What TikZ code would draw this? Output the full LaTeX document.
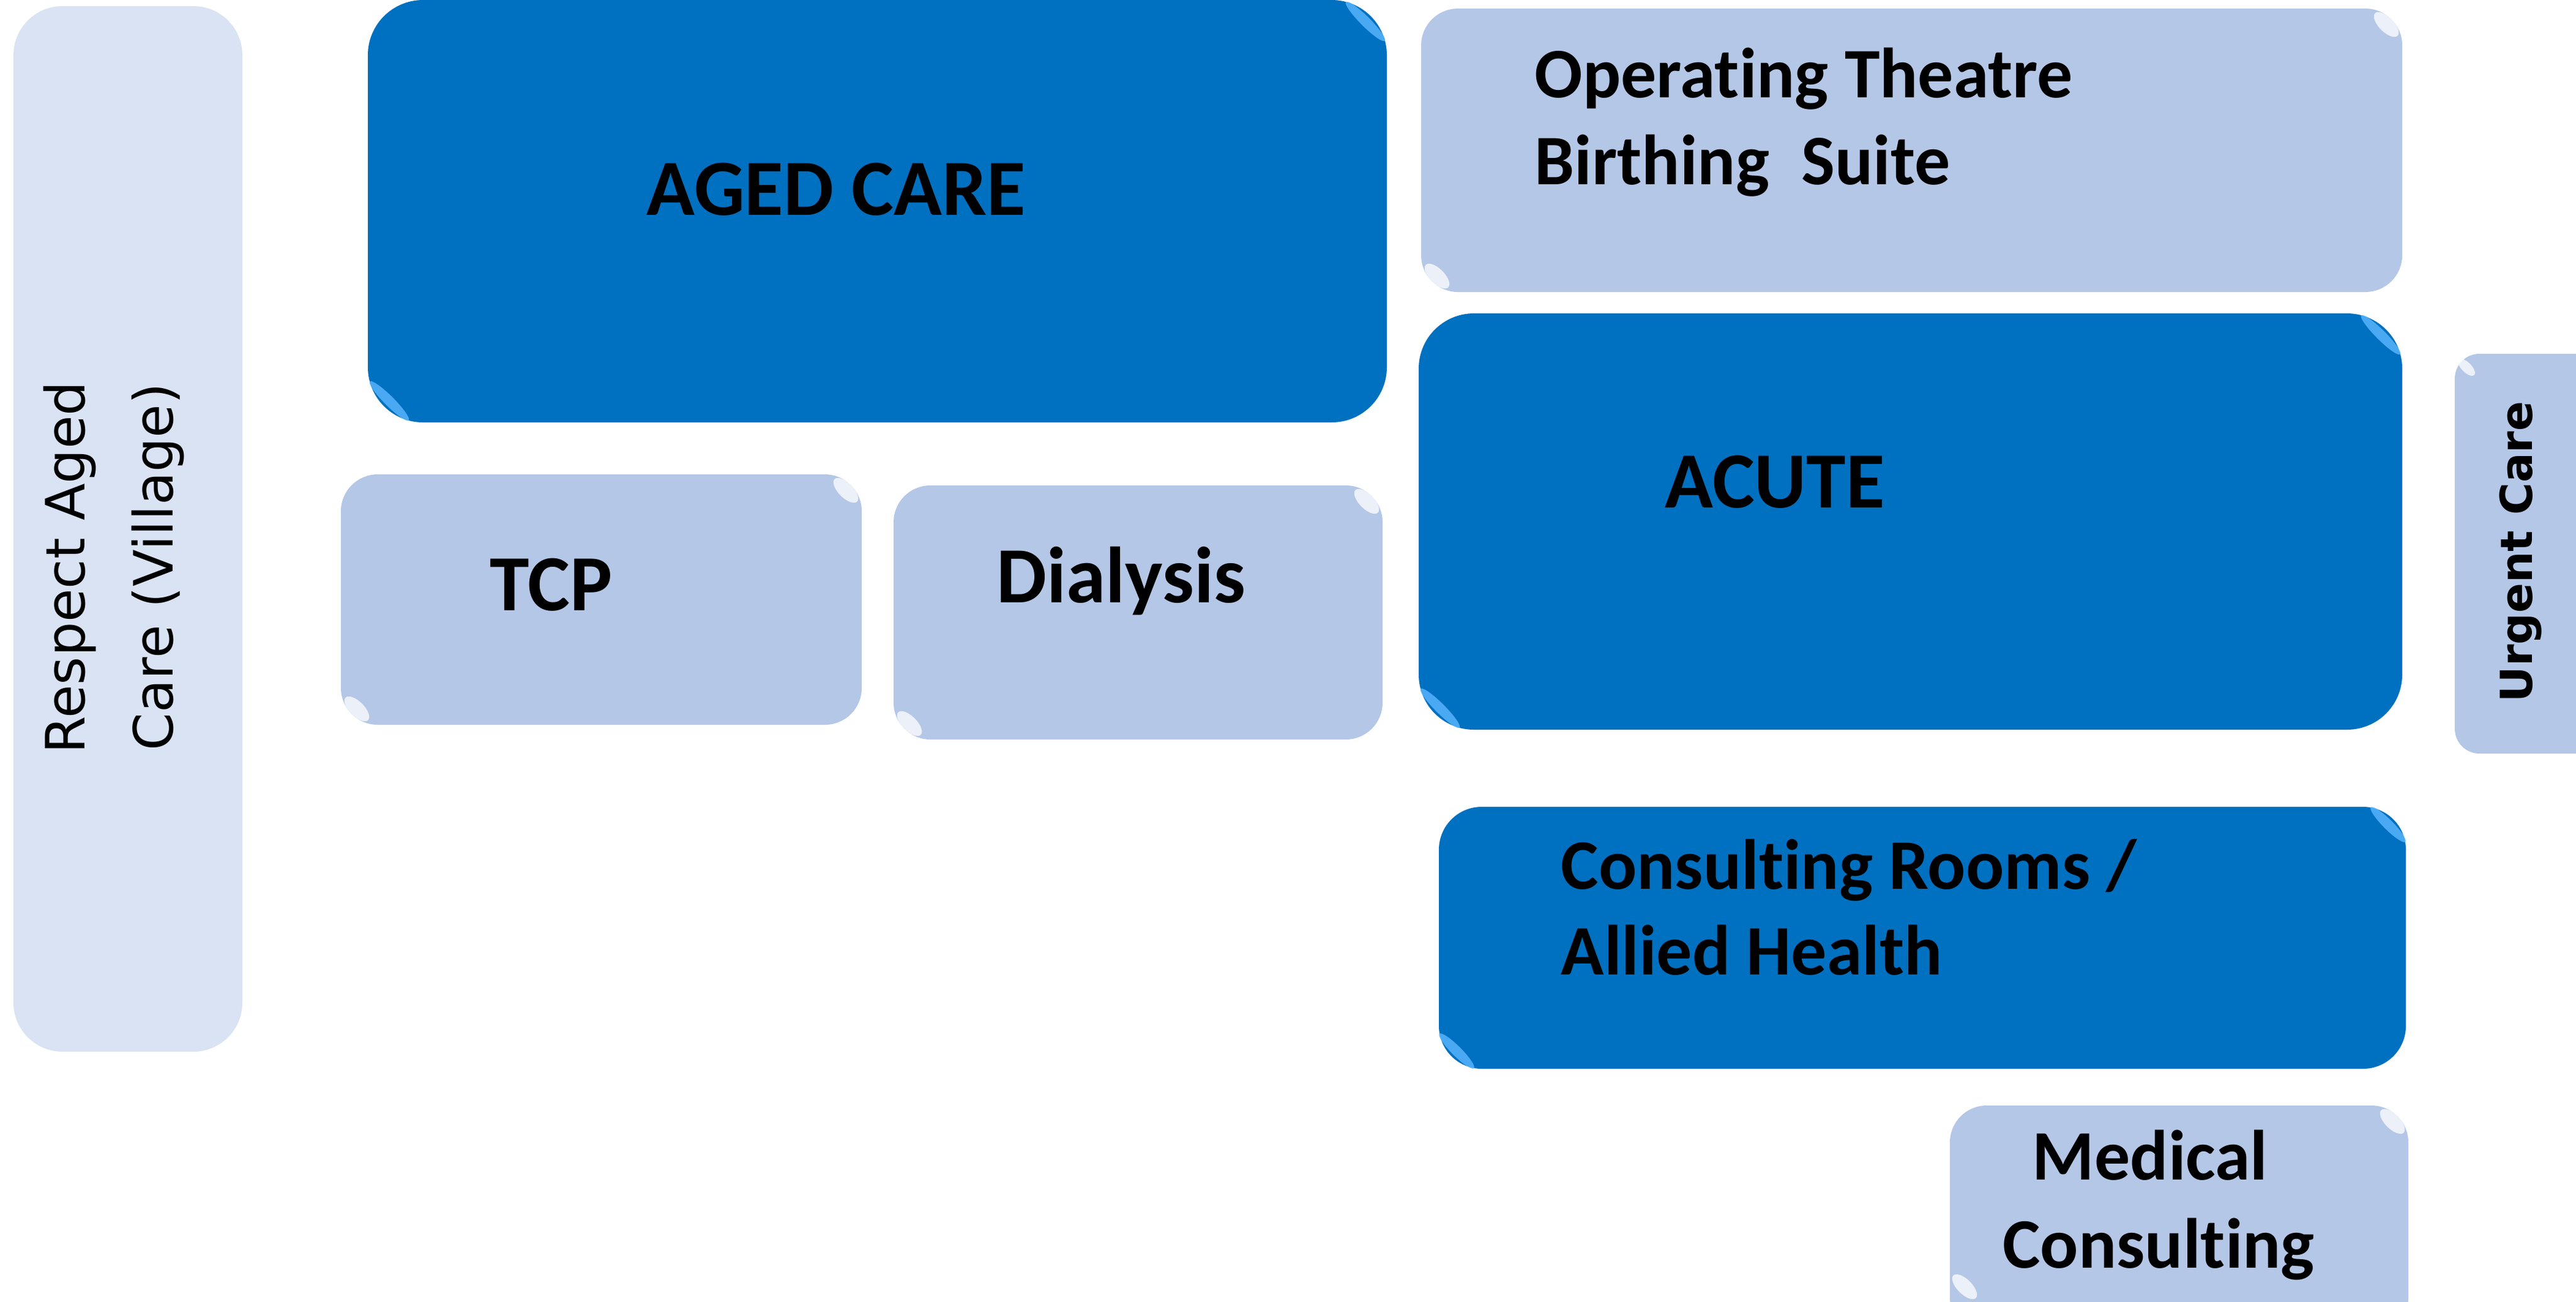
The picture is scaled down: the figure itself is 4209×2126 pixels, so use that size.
\documentclass[tikz,border=0pt]{standalone}
\usepackage{fontspec}
\setmainfont{Carlito}[Ligatures=NoCommon]
\newfontfamily\vfont{DejaVu Sans}
\definecolor{darkblue}{HTML}{0070C0}
\definecolor{paleblue}{HTML}{B4C7E7}
\definecolor{mistblue}{HTML}{DAE3F3}
\definecolor{glintblue}{HTML}{5CB8FF}
\tikzset{
  darkbox/.style={fill=darkblue, rounded corners=0.9cm},
  palebox/.style={fill=paleblue, rounded corners=0.6cm},
  big/.style={font=\fontsize{37}{40}\selectfont\bfseries, inner sep=0pt, anchor=base west},
  mid/.style={font=\fontsize{33}{40}\selectfont\bfseries, inner sep=0pt, anchor=base west},
  side/.style={font=\vfont\fontsize{25.2}{40}\selectfont, inner sep=0pt, anchor=base west, rotate=90},
  darkglint/.style={fill=glintblue, opacity=0.8},
  paleglint/.style={fill=white, opacity=0.75},
}
\newcommand{\glint}[5]{\fill[#3, rotate around={45:(#1,#2)}] (#1,#2) ellipse (#4 and #5);}
\begin{document}
\begin{tikzpicture}[x=0.01cm,y=-0.01cm]
      \useasboundingbox (0,0) rectangle (4209,2126);
      \clip (0,0) rectangle (4209,2126);
      \coordinate (RA) at (22,10);
      \coordinate (RB) at (396,1718);
      \coordinate (AA) at (601,0);
      \coordinate (AB) at (2266,690);
      \coordinate (TA) at (557,775);
      \coordinate (TB) at (1408,1184);
      \coordinate (DA) at (1460,793);
      \coordinate (DB) at (2259,1208);
      \coordinate (OA) at (2322,14);
      \coordinate (OB) at (3925,477);
      \coordinate (CA) at (2318,512);
      \coordinate (CB) at (3925,1192);
      \coordinate (UA) at (4011,578);
      \coordinate (UB) at (4260,1231);
      \coordinate (KA) at (2351,1318);
      \coordinate (KB) at (3931,1746);
      \coordinate (MA) at (3186,1806);
      \coordinate (MB) at (3935,2180);
      \fill[mistblue, rounded corners=0.8cm] (RA) rectangle (RB);
      \fill[darkbox] (AA) rectangle (AB);
      \fill[darkbox] (CA) rectangle (CB);
      \fill[darkbox, rounded corners=0.7cm] (KA) rectangle (KB);
      \fill[palebox] (TA) rectangle (TB);
      \fill[palebox] (DA) rectangle (DB);
      \fill[palebox] (OA) rectangle (OB);
      \fill[palebox, rounded corners=0.4cm] (UA) rectangle (UB);
      \fill[palebox] (MA) rectangle (MB);
      % corner shine
      \glint{2231}{35}{darkglint}{8}{45}
      \glint{636}{655}{darkglint}{8}{45}
      \glint{3890}{547}{darkglint}{8}{45}
      \glint{2353}{1157}{darkglint}{8}{45}
      \glint{3902}{1347}{darkglint}{8}{40}
      \glint{2380}{1717}{darkglint}{8}{40}
      \glint{1382}{801}{paleglint}{12}{26}
      \glint{583}{1158}{paleglint}{12}{26}
      \glint{2233}{819}{paleglint}{12}{26}
      \glint{1486}{1182}{paleglint}{12}{26}
      \glint{3899}{40}{paleglint}{12}{26}
      \glint{2348}{451}{paleglint}{12}{26}
      \glint{3909}{1832}{paleglint}{12}{26}
      \glint{3210}{2102}{paleglint}{12}{26}
      \glint{4030}{600}{paleglint}{8}{18}
      \node[big] (aged) at (1056,351) {AGED CARE};
      \node[big] (tcp) at (800,997) {TCP};
      \node[big] (dial) at (1628,984) {Dialysis};
      \node[big] (acute) at (2720,829) {ACUTE};
      \node[mid] (oper) at (2507,159) {Operating Theatre};
      \node[mid] (birth) at (2507,301) {Birthing\ \ Suite};
      \node[mid] (rooms) at (2550,1452) {Consulting Rooms /};
      \node[mid] (allied) at (2550,1592) {Allied Health};
      \node[mid, anchor=base] (medi) at (3513,1927) {Medical};
      \node[mid, anchor=base] (cons) at (3527,2071) {Consulting};
      \node[side] (resp) at (138,1232) {Respect Aged};
      \node[side] (vill) at (282,1227) {Care (Village)};
      \node[side, font=\vfont\bfseries\fontsize{20.5}{24}\selectfont] (urg) at (4137,1148) {Urgent Care};
    \end{tikzpicture}
\end{document}
